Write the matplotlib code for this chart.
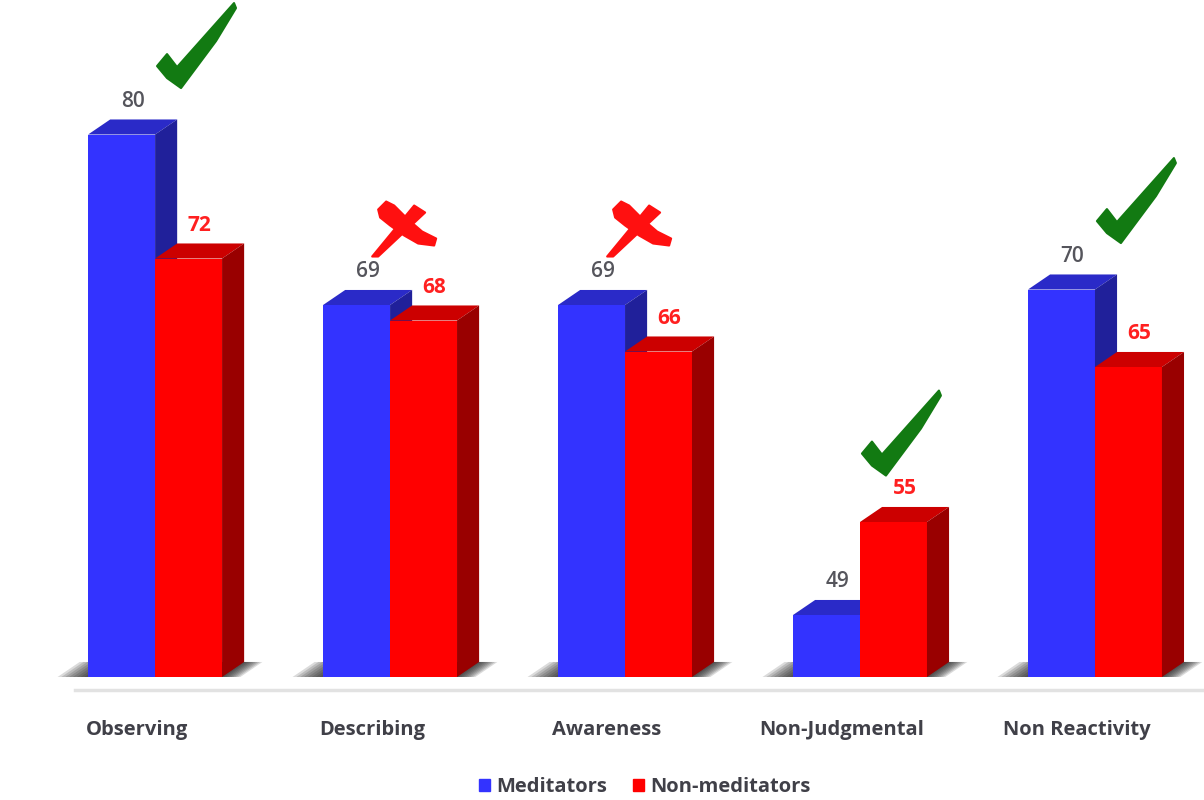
import matplotlib.pyplot as plt
import numpy as np

# Data
categories = ["Observing", "Describing", "Awareness", "Non-Judgmental", "Non Reactivity"]
meditators = [80, 69, 69, 49, 70]
non_meditators = [72, 68, 66, 55, 65]
marks = ["check", "x", "x", "check", "check"]
series_names = ["Meditators", "Non-meditators"]

# Style
font = "Open Sans"
text_grey = "#404048"
blue = {"front": "#3333ff", "top": "#2a2ac8", "side": "#20209a"}
red = {"front": "#ff0000", "top": "#cc0000", "side": "#990000"}
bar_w = 0.285
dx = 0.094   # depth in x (category units)
dy = 0.97    # depth in y (value units)
y_min = 45
px_x = 1 / 235    # one pixel in category units
px_y = 1 / 15.5   # one pixel in value units

# tick / cross outlines in pixels around their centre (y up)
check_shape = np.array([(-38, -21), (-28, -9), (-18, -22), (39, 42), (41, 37),
                        (21, 4), (-14, -43), (-28, -33)])
cross_a = np.array([(-32, -27), (10, 24), (21, 17), (-26, -27)])
cross_b = np.array([(-26, 20), (-18, 28), (-10, 24), (4, 10), (18, -2), (32, -9),
                    (30, -16), (14, -14), (0, -6), (-14, 4), (-24, 12)])


def draw_bar(ax, x0, val, colors, z):
    x1 = x0 + bar_w
    ax.bar(x0, val - y_min, width=bar_w, bottom=y_min, align="edge",
           color=colors["front"], zorder=z, linewidth=0)
    top = [(x0, val), (x0 + dx, val + dy), (x1 + dx, val + dy), (x1, val)]
    side = [(x1, y_min), (x1, val), (x1 + dx, val + dy), (x1 + dx, y_min + dy)]
    ax.fill(*zip(*top), color=colors["top"], zorder=z, linewidth=0)
    ax.fill(*zip(*side), color=colors["side"], zorder=z, linewidth=0)


def draw_shadow(ax, x_left, x_right):
    # soft floor shadow behind a group of bars
    for k in np.linspace(0.0, 0.13, 9):
        poly = [(x_left - k, y_min), (x_left - k + dx, y_min + dy),
                (x_right + dx + k * 0.6, y_min + dy), (x_right + k * 0.6, y_min)]
        ax.fill(*zip(*poly), color="#202020", alpha=0.16, zorder=1, linewidth=0)


def draw_shape(ax, shape, cx, cy, color):
    xs = cx + shape[:, 0] * px_x
    ys = cy + shape[:, 1] * px_y
    ax.fill(xs, ys, color=color, zorder=7, linewidth=1.5, edgecolor=color,
            joinstyle="round")


fig = plt.figure(figsize=(12.04, 8), dpi=100)
ax = fig.add_axes([0, 0.15375, 1, 0.84625])
ax.set_xlim(-0.66, 4.464)
ax.set_ylim(y_min, y_min + 677 / 15.5)
ax.axis("off")

x = np.arange(len(categories))
for i, (m, n) in enumerate(zip(meditators, non_meditators)):
    draw_shadow(ax, x[i] - bar_w, x[i] + bar_w)
    draw_bar(ax, x[i] - bar_w, m, blue, 3)
    draw_bar(ax, x[i], n, red, 4)

    ax.text(x[i] - bar_w / 2 + dx / 2, m + dy + 0.5, str(m), ha="center", va="bottom",
            fontsize=15, color="#55555c", family=font, fontweight="semibold", zorder=6)
    ax.text(x[i] + bar_w / 2 + dx / 2, n + dy + 0.5, str(n), ha="center", va="bottom",
            fontsize=15, color="#ff2020", family=font, fontweight="bold", zorder=6)

    top = max(m, n) + dy
    if marks[i] == "check":
        draw_shape(ax, check_shape, x[i] + 0.17, top + 4.8, "#127a12")
    else:
        draw_shape(ax, cross_a, x[i] + 0.06, top + 3.9, "#ff1010")
        draw_shape(ax, cross_b, x[i] + 0.06, top + 3.9, "#ff1010")

# floor line
fig.add_artist(plt.Line2D([75 / 1204, 1], [1 - 690 / 800] * 2, transform=fig.transFigure,
                          color="#e2e2e2", linewidth=2.5))

# category labels
for i, c in enumerate(categories):
    fx = (155 + 235 * x[i] - 18) / 1204
    fig.text(fx, 1 - 730 / 800, c, ha="center", va="center", fontsize=14.5,
             fontweight="bold", color=text_grey, family=font)

# legend
handles = [plt.Rectangle((0, 0), 1, 1, color=blue["front"]),
           plt.Rectangle((0, 0), 1, 1, color=red["front"])]
leg = fig.legend(handles, series_names, loc="center", bbox_to_anchor=(645 / 1204, 1 - 787 / 800),
                 ncol=2, frameon=False, handlelength=0.55, handleheight=0.55,
                 handletextpad=0.3, columnspacing=1.3,
                 prop={"family": font, "weight": "bold", "size": 14.5})
for t in leg.get_texts():
    t.set_color(text_grey)

fig.savefig("out.png", dpi=100, facecolor="white")
